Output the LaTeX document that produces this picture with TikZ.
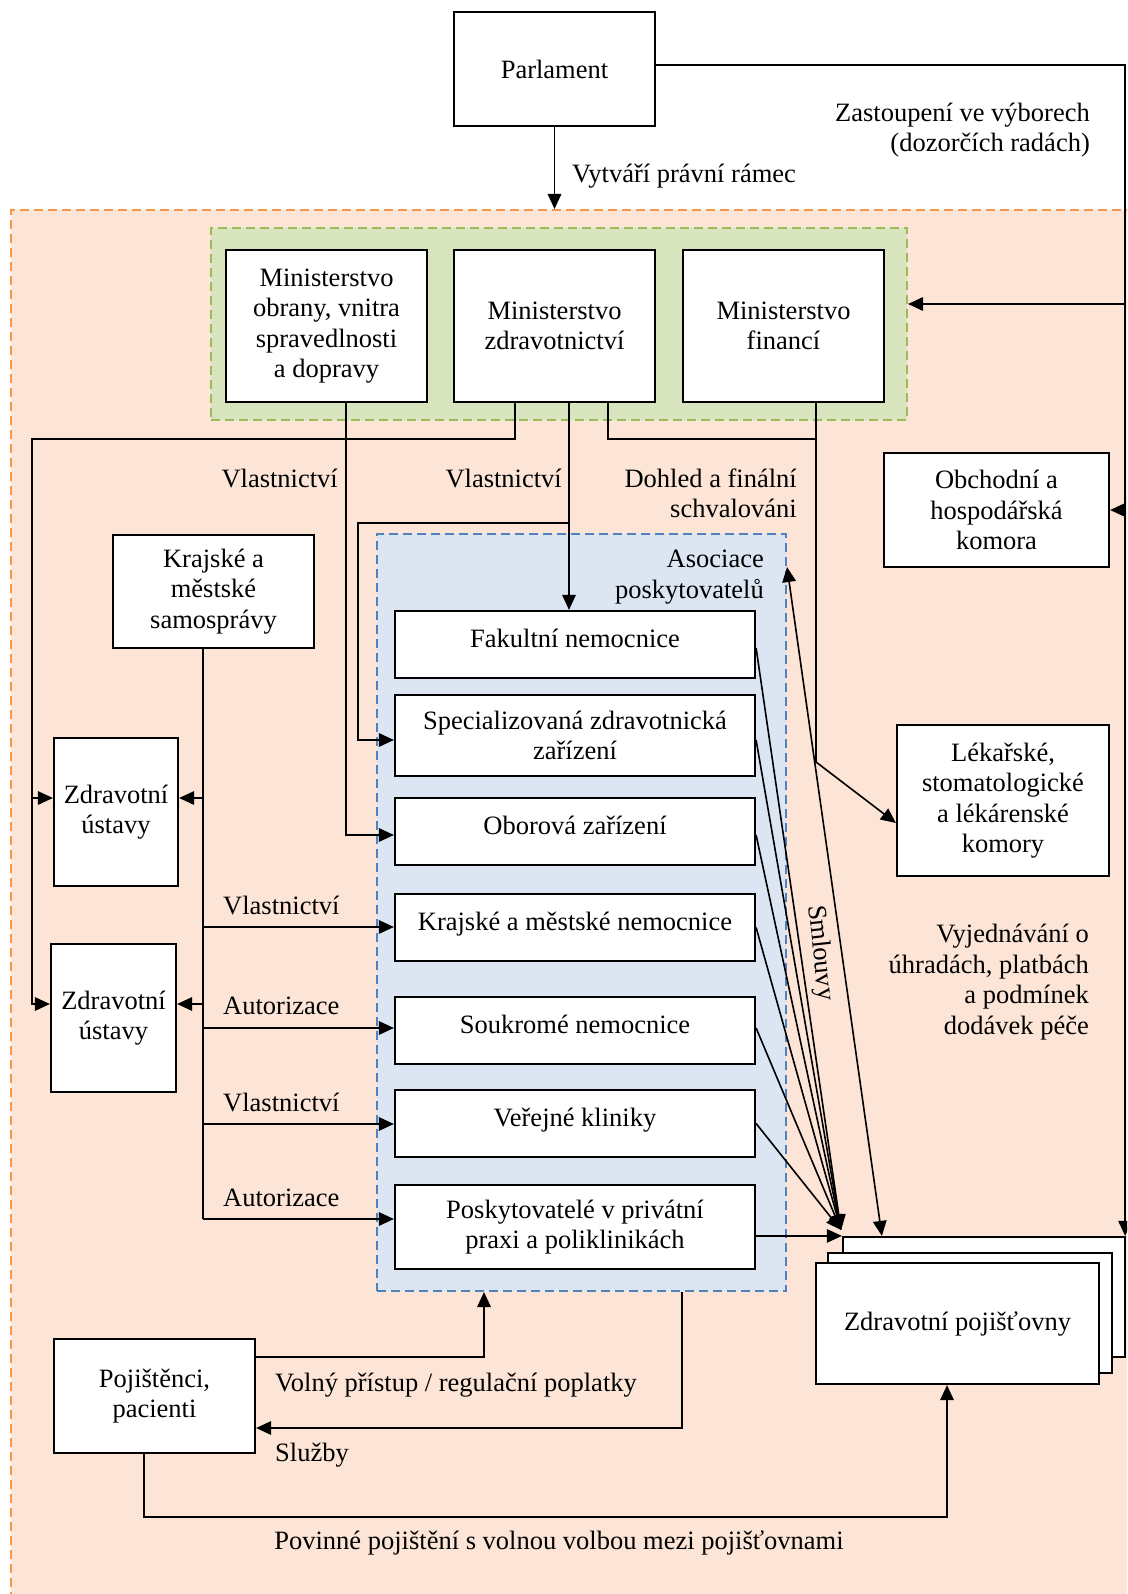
\documentclass[tikz,border=0pt]{standalone}
\usepackage{fontspec}
\setmainfont{Liberation Serif}
\usetikzlibrary{arrows.meta,calc}
\definecolor{peach}{HTML}{FCE4D6}
\definecolor{orangeb}{HTML}{F79646}
\definecolor{greenf}{HTML}{D7E4BD}
\definecolor{greenb}{HTML}{9BBB59}
\definecolor{bluef}{HTML}{DCE6F2}
\definecolor{blueb}{HTML}{4F81BD}
\begin{document}
\begin{tikzpicture}[x=1pt,y=-1pt,
  font=\fontsize{26.5}{30.5}\selectfont,
  base/.style={draw=black,line width=2.2pt,fill=white},
  box/.style={base,inner sep=2pt,align=center},
  prov/.style={base,inner sep=0pt,minimum width=360pt,text height=36pt,text depth=31pt},
  provtwo/.style={box,minimum width=360pt},
  grp/.style={inner sep=0pt,line width=2pt,dash pattern=on 9pt off 5pt},
  tip/.tip={Triangle[length=15pt,width=13.5pt]},
  arr/.style={line width=1.6pt,-tip},
  ln/.style={line width=1.6pt},
  lbl/.style={inner sep=0pt,align=center},
]
\useasboundingbox (0,0) rectangle (1127,1594);
\clip (0,0) rectangle (1127,1594);
\fill[white] (0,0) rectangle (1127,1594);

% groups
\node[grp,draw=orangeb,fill=peach,minimum width=1129pt,minimum height=1400pt] (orange) at (575.5,910) {};
\node[grp,draw=greenb,fill=greenf,minimum width=696pt,minimum height=192pt] (green) at (559,324) {};
\node[grp,draw=blueb,fill=bluef,minimum width=409pt,minimum height=757pt] (blue) at (581.5,912.5) {};

% boxes
\node[box,minimum width=201pt,minimum height=114pt] (parl) at (554.5,69) {Parlament};
\node[box,minimum width=201pt,minimum height=152pt] (min1) at (326.5,326) {Ministerstvo\\obrany, vnitra\\spravedlnosti\\a dopravy};
\node[box,minimum width=201pt,minimum height=152pt] (min2) at (554.5,326) {Ministerstvo\\zdravotnictví};
\node[box,minimum width=201pt,minimum height=152pt] (min3) at (783.5,326) {Ministerstvo\\financí};
\node[box,minimum width=225pt,minimum height=114pt] (obch) at (996.5,510) {Obchodní a\\hospodářská\\komora};
\node[box,minimum width=212pt,minimum height=151pt] (lek) at (1003,800.5) {Lékařské,\\stomatologické\\a lékárenské\\komory};
\node[box,minimum width=201pt,minimum height=113pt] (kraj) at (213.5,591.5) {Krajské a\\městské\\samosprávy};
\node[box,minimum width=124pt,minimum height=148pt] (zu1) at (116,812) {Zdravotní\\ústavy};
\node[box,minimum width=125pt,minimum height=148pt] (zu2) at (113.5,1018) {Zdravotní\\ústavy};

\node[prov] (fak) at (575,644.5) {Fakultní nemocnice};
\node[provtwo,minimum height=81pt] (spec) at (575,735.5) {Specializovaná zdravotnická\\zařízení};
\node[prov] (obor) at (575,831.5) {Oborová zařízení};
\node[prov] (krn) at (575,927.5) {Krajské a městské nemocnice};
\node[prov] (souk) at (575,1030.5) {Soukromé nemocnice};
\node[prov] (ver) at (575,1123.5) {Veřejné kliniky};
\node[provtwo,minimum height=84pt] (posk) at (575,1227) {Poskytovatelé v privátní\\praxi a poliklinikách};

\node[box,minimum width=201pt,minimum height=114pt] (pac) at (154.5,1396) {Pojištěnci,\\pacienti};

\node[base,minimum width=282pt,minimum height=120pt] (ins3) at (984,1297) {};
\node[base,minimum width=284pt,minimum height=120pt] (ins2) at (970,1313) {};
\node[box,minimum width=283pt,minimum height=121pt] (ins1) at (957.5,1323.5) {Zdravotní pojišťovny};

% labels
\node[lbl,align=right,anchor=east] (zast) at (1090,130) {Zastoupení ve výborech\\(dozorčích radách)};
\node[lbl,anchor=west] (vytv) at (572,176) {Vytváří právní rámec};
\node[lbl,anchor=east] (vl1) at (338,478) {Vlastnictví};
\node[lbl,anchor=east] (vl2) at (562,478) {Vlastnictví};
\node[lbl,align=right,anchor=east] (dohl) at (797,493.5) {Dohled a finální\\schvalováni};
\node[lbl,align=right,anchor=east] (asoc) at (764,577) {Asociace\\poskytovatelů};
\node[lbl,anchor=west] (vl3) at (223,905) {Vlastnictví};
\node[lbl,anchor=west] (au1) at (223,1006) {Autorizace};
\node[lbl,anchor=west] (vl4) at (223,1102) {Vlastnictví};
\node[lbl,anchor=west] (au2) at (223,1198) {Autorizace};
\node[lbl,rotate=-84] (smlouvy) at (820,953) {Smlouvy};
\node[lbl,align=right,anchor=east] (vyj) at (1089,982) {Vyjednávání o\\úhradách, platbách\\a podmínek\\dodávek péče};
\node[lbl,anchor=west] (voln) at (275,1385) {Volný přístup / regulační poplatky};
\node[lbl,anchor=west] (sluz) at (275,1455) {Služby};
\node[lbl] (povin) at (559,1543) {Povinné pojištění s volnou volbou mezi pojišťovnami};

% connectors
\coordinate (rv) at ($(ins3.north east)+(-1,0)$);
\draw[arr] ($(parl.east)+(0,-4)$) -| (rv);
\coordinate (g1) at (1124,304);
\draw[arr] (g1) -- (g1 -| green.east);
\draw[arr] (obch.east -| rv) -- (obch.east);
\draw[arr] (parl.south) -- (parl.south |- orange.north);

\coordinate (a1) at ($(min2.south)+(-39.5,0)$);
\coordinate (a2) at (32,439);
\draw[arr] (a1) |- (a2) |- ($(zu2.west)+(0,-14)$);
\coordinate (b1) at (32,798);
\draw[arr] (b1) -- (b1 -| zu1.west);

\draw[arr] ($(min1.south)+(19.5,0)$) |- ($(obor.west)+(0,3.5)$);
\coordinate (c1) at ($(min2.south)+(14.5,0)$);
\draw[arr] (c1) -- (c1 |- fak.north);
\coordinate (c2) at (569,523);
\coordinate (c3) at (358,523);
\draw[arr] (c2) -- (c3) |- ($(spec.west)+(0,4.5)$);

\coordinate (d0) at ($(min3.south)+(32.5,0)$);
\coordinate (d1) at (816,439);
\coordinate (d2) at (816,762);
\draw[ln] ($(min2.south)+(53.5,0)$) |- (d1);
\draw[arr] (d0) -- (d2) -- ($(lek.west)+(0,22.5)$);

\coordinate (k0) at ($(kraj.south)+(-10.5,0)$);
\coordinate (k1) at (203,1219);
\draw[ln] (k0) -- (k1);
\coordinate (k2) at (203,798);
\coordinate (k3) at (203,1004);
\coordinate (k4) at (203,927);
\coordinate (k5) at (203,1028);
\coordinate (k6) at (203,1124);
\draw[arr] (k2) -- (k2 -| zu1.east);
\draw[arr] (k3) -- (k3 -| zu2.east);
\draw[arr] (k4) -- (k4 -| krn.west);
\draw[arr] (k5) -- (k5 -| souk.west);
\draw[arr] (k6) -- (k6 -| ver.west);
\draw[arr] (k1) -- (k1 -| posk.west);

\coordinate (hub) at (841,1230);
\draw[arr] ($(fak.east)+(0,3.5)$) -- (hub);
\draw[arr] ($(spec.east)+(0,4.5)$) -- (hub);
\draw[arr] ($(obor.east)+(0,3.5)$) -- (hub);
\draw[arr] (krn.east) -- (hub);
\draw[arr] ($(souk.east)+(0,-2.5)$) -- (hub);
\draw[arr] (ver.east) -- (hub);
\draw[arr,line width=1.2pt] (posk.east |- ins3.north west) -- (ins3.north west);

\draw[ln,tip-tip] ($(blue.north east)+(0,34)$) -- ($(ins3.north west)+(40,0)$);

\draw[arr] ($(pac.east)+(0,-39)$) -| ($(blue.south west)+(108,0)$);
\draw[arr] ($(blue.south west)+(306,0)$) |- ($(pac.east)+(0,32)$);
\coordinate (p3) at (947,1517);
\draw[arr] ($(pac.south)+(-10.5,0)$) |- (p3) -- (p3 |- ins1.south);
\end{tikzpicture}
\end{document}
